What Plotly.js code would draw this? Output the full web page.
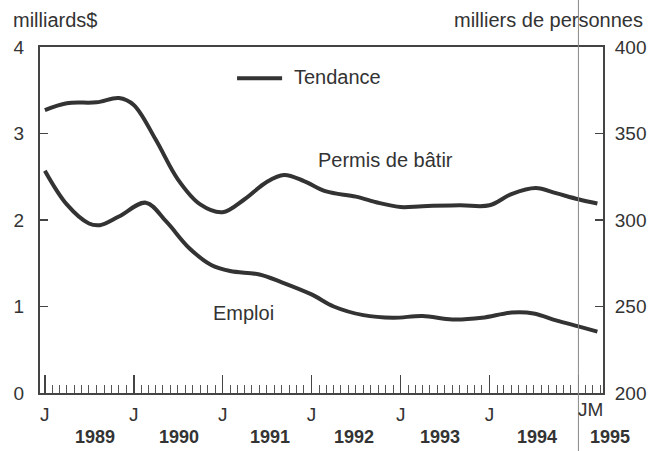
<!DOCTYPE html>
<html>
<head>
<meta charset="utf-8">
<script src="https://cdn.plot.ly/plotly-3.0.1.min.js"></script>
<style>html,body{margin:0;padding:0;background:#fff;}#chart{width:656px;height:451px;}</style>
</head>
<body>
<div id="chart"></div>
<script>
// Permis de bâtir (milliards $, left axis)
const permisDates = ['1989-01-01','1989-04-01','1989-08-01','1989-11-01','1990-01-01','1990-04-01','1990-07-01','1990-10-01','1991-01-01','1991-04-01','1991-07-01','1991-09-10','1991-12-01','1992-03-01','1992-07-01','1992-10-01','1993-01-01','1993-04-01','1993-09-01','1994-01-01','1994-04-01','1994-07-10','1994-10-01','1995-01-01','1995-03-20'];
const permisValues = [3.27,3.35,3.36,3.41,3.33,2.93,2.47,2.18,2.09,2.24,2.44,2.52,2.45,2.33,2.27,2.20,2.15,2.16,2.17,2.17,2.30,2.37,2.31,2.24,2.19];

// Emploi (milliers de personnes, right axis)
const emploiDates = ['1989-01-01','1989-04-01','1989-07-01','1989-08-15','1989-11-01','1990-02-20','1990-05-15','1990-08-15','1990-11-15','1991-02-01','1991-06-01','1991-09-01','1992-01-01','1992-04-01','1992-08-01','1992-12-01','1993-04-01','1993-08-01','1993-12-01','1994-04-01','1994-07-01','1994-10-01','1995-01-01','1995-03-20'];
const emploiValues = [328.5,309,298,297,302,310,299,284,274,270.5,268.5,264,257,250,245,243.5,244.5,242.5,243.5,246.5,246,242,238.5,235.5];

// Tick labels
const januaryTicks = ['1989-01-01','1990-01-01','1991-01-01','1992-01-01','1993-01-01','1994-01-01','1995-01-01'];
const januaryLabels = ['J','J','J','J','J','J',''];
const yearLabels = ['1989','1990','1991','1992','1993','1994'];
const yearPos = ['1989-07-24','1990-07-07','1991-07-13','1992-06-25','1993-06-10','1994-07-15'];
const lastYearLabel = '1995';
const leftTicks = [0,1,2,3,4];
const rightTicks = [200,250,300,350,400];

const lineColor = '#333333';
const textColor = '#333333';
const fontFam = '"Liberation Sans", Arial, sans-serif';

const traces = [
  {x: permisDates, y: permisValues, type: 'scatter', mode: 'lines', name: 'Permis de bâtir',
   line: {color: lineColor, width: 4, shape: 'spline', smoothing: 1}, yaxis: 'y', showlegend: false},
  {x: emploiDates, y: emploiValues, type: 'scatter', mode: 'lines', name: 'Emploi',
   line: {color: lineColor, width: 4, shape: 'spline', smoothing: 1}, yaxis: 'y2', showlegend: false}
];

const f = (s, b) => ({size: s, color: textColor, family: fontFam, weight: b ? 'bold' : 'normal'});

const annotations = yearLabels.map((t, i) => ({
  text: t, x: yearPos[i], xref: 'x', y: -0.128, yref: 'paper', showarrow: false,
  xanchor: 'center', yanchor: 'middle', font: f(18, true)
}));
annotations.push(
  {text: lastYearLabel, x: 1.012, xref: 'paper', y: -0.128, yref: 'paper', showarrow: false, xanchor: 'center', yanchor: 'middle', font: f(18, true)},
  {text: 'JM', x: '1995-02-18', xref: 'x', y: -0.049, yref: 'paper', showarrow: false, xanchor: 'center', yanchor: 'middle', font: f(19)},
  {text: 'milliards$', x: 0, xref: 'paper', xshift: -29, y: 1.078, yref: 'paper', showarrow: false, xanchor: 'left', yanchor: 'middle', font: f(20)},
  {text: 'milliers de personnes', x: 1, xref: 'paper', xshift: 42, y: 1.078, yref: 'paper', showarrow: false, xanchor: 'right', yanchor: 'middle', font: f(20)},
  {text: 'Permis de bâtir', x: '1992-11-01', xref: 'x', y: 2.69, yref: 'y', showarrow: false, xanchor: 'center', yanchor: 'middle', font: f(20)},
  {text: 'Emploi', x: '1991-03-28', xref: 'x', y: 0.925, yref: 'y', showarrow: false, xanchor: 'center', yanchor: 'middle', font: f(20)},
  {text: 'Tendance', x: 0.448, xref: 'paper', y: 0.913, yref: 'paper', showarrow: false, xanchor: 'left', yanchor: 'middle', font: f(20)}
);

const layout = {
  width: 656, height: 451,
  margin: {l: 40, r: 53, t: 47, b: 58},
  paper_bgcolor: '#ffffff', plot_bgcolor: '#ffffff',
  font: {family: fontFam, size: 19, color: textColor},
  showlegend: false,
  xaxis: {
    type: 'date', range: ['1988-12-12', '1995-04-12'],
    showgrid: false, zeroline: false, showline: true, linecolor: '#444', linewidth: 2, mirror: true,
    tickmode: 'array', tickvals: januaryTicks, ticktext: januaryLabels,
    ticks: 'inside', ticklen: 18, tickwidth: 1.5, tickcolor: '#444',
    minor: {dtick: 'M1', tick0: '1989-01-01', ticks: 'inside', ticklen: 8, tickwidth: 1, tickcolor: '#555', showgrid: false},
    tickfont: f(19), ticklabelstandoff: 3
  },
  yaxis: {
    range: [0, 4], tickmode: 'array', tickvals: leftTicks,
    showgrid: false, zeroline: false, showline: true, linecolor: '#444', linewidth: 2,
    ticks: 'inside', ticklen: 8, tickwidth: 1.5, tickcolor: '#444',
    tickfont: f(19), ticklabelstandoff: 10
  },
  yaxis2: {
    range: [200, 400], overlaying: 'y', side: 'right', tickmode: 'array', tickvals: rightTicks,
    showgrid: false, zeroline: false, showline: true, linecolor: '#444', linewidth: 2,
    ticks: 'inside', ticklen: 8, tickwidth: 1.5, tickcolor: '#444',
    tickfont: f(19), ticklabelstandoff: 6
  },
  shapes: [
    {type: 'line', xref: 'paper', yref: 'paper', x0: 0.350, x1: 0.430, y0: 0.910, y1: 0.910, line: {color: lineColor, width: 4}},
    {type: 'line', xref: 'x', yref: 'paper', x0: '1995-01-01', x1: '1995-01-01', y0: -0.2, y1: 1.15, line: {color: '#888', width: 1}, layer: 'above'}
  ],
  annotations: annotations
};

Plotly.newPlot('chart', traces, layout, {displayModeBar: false, staticPlot: true});
</script>
</body>
</html>
